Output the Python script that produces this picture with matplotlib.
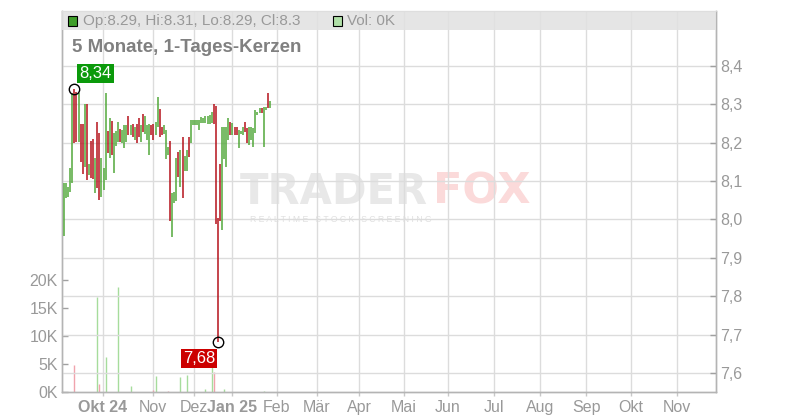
import matplotlib
matplotlib.use("Agg")
import matplotlib.pyplot as plt
from matplotlib.patches import Rectangle

plt.rcParams['font.family'] = ['Liberation Sans', 'DejaVu Sans']

# ---------------- data ----------------
highs = [8.095, 8.095, 8.085, 8.134, 8.330, 8.340, 8.332, 8.330, 8.249, 8.249,
         8.301, 8.301, 8.145, 8.205, 8.210, 8.160, 8.254, 8.225, 8.160, 8.134,
         8.330, 8.231, 8.265, 8.257, 8.225,
         8.231, 8.254, 8.236, 8.233, 8.246, 8.246, 8.270, 8.246, 8.249, 8.241,
         8.249, 8.264, 8.246, 8.275, 8.270, 8.246, 8.249, 8.246, 8.249, 8.254,
         8.319, 8.288, 8.241, 8.246, 8.233, 8.189, 8.205,
         8.069, 8.072, 8.160, 8.176, 8.181, 8.215, 8.165, 8.181, 8.215, 8.259,
         8.259, 8.259, 8.259, 8.259, 8.267, 8.265, 8.270, 8.270, 8.272, 8.280,
         8.301, 8.296, 8.004, 8.145,
         8.241, 8.241, 8.241, 8.264, 8.254, 8.251, 8.241, 8.241, 8.233, 8.231,
         8.241, 8.254, 8.238, 8.241, 8.241, 8.238, 8.285, 8.280, 8.290, 8.290,
         8.293, 8.293, 8.330, 8.310]
lows = [7.957, 8.056, 8.059, 8.072, 8.095, 8.199, 8.202, 8.202, 8.150, 8.119,
        8.137, 8.103, 8.116, 8.108, 8.106, 8.069, 8.082, 8.051, 8.059, 8.077,
        8.103, 8.173, 8.160, 8.168, 8.121,
        8.192, 8.202, 8.202, 8.199, 8.186, 8.202, 8.220, 8.220, 8.215, 8.207,
        8.199, 8.215, 8.202, 8.228, 8.223, 8.207, 8.168, 8.220, 8.207, 8.220,
        8.241, 8.215, 8.220, 8.223, 8.158, 8.168, 7.996,
        7.954, 8.043, 8.048, 8.111, 8.085, 8.056, 8.126, 8.126, 8.163, 8.199,
        8.246, 8.246, 8.246, 8.233, 8.251, 8.251, 8.251, 8.249, 8.249, 8.251,
        8.249, 7.988, 7.680, 7.996,
        7.973, 8.158, 8.137, 8.207, 8.220, 8.220, 8.220, 8.220, 8.186, 8.223,
        8.220, 8.228, 8.199, 8.194, 8.207, 8.189, 8.225, 8.272, 8.278, 8.278,
        8.189, 8.285, 8.290, 8.290]
direction = ("GGGGGRRGRRGRGRRGRRGGGRGRG"
             "GGRGGGRGRGRRGRGGGRRGGRRGGGR"
             "GGGRGRGGRGGGGGGGGGGGRRRR"
             "GGGGRGRRGGGRRGGGGGGRGGRG")

vol_idx = [5, 16, 17, 20, 26, 32, 43, 44, 50, 56, 59, 68, 71, 72, 77, 96]
vol_k = [4.8, 17.0, 1.4, 6.2, 18.8, 1.1, 0.35, 2.9, 0.2, 2.6, 3.0, 0.5, 4.4, 3.5, 0.5, 0.2]
vol_dir = "RGRGGGRGRGGGGRGG"

month_pos = [18.75, 42.8, 62.5, 80.8, 102.4, 121.6, 141.8, 163.5, 184.6,
             206.7, 228.8, 251.0, 272.6, 294.7]
month_labels = ["Okt 24", "Nov", "Dez", "Jan 25", "Feb", "Mär", "Apr", "Mai",
                "Jun", "Jul", "Aug", "Sep", "Okt", "Nov"]
price_ticks = [7.6, 7.7, 7.8, 7.9, 8.0, 8.1, 8.2, 8.3, 8.4]
vol_ticks = [0, 5, 10, 15, 20]

title = "5 Monate, 1-Tages-Kerzen"
legend_ohlc = "Op:8.29, Hi:8.31, Lo:8.29, Cl:8.3"
legend_vol = "Vol: 0K"
hi_idx, hi_val, hi_label = 5, 8.34, "8,34"
lo_idx, lo_val, lo_label = 74, 7.68, "7,68"

# ---------------- style ----------------
W, H = 800, 420
GREEN = '#52a83a'
RED = '#b5121b'
VGREEN = '#a6dc9c'
VRED = '#f0a3ad'
GRID = '#dcdcdc'
TXT = '#999999'
SPINE = '#b4b4b4'

def fx(px):
    return px / W

def fy(py):
    return 1 - py / H

fig = plt.figure(figsize=(W / 100, H / 100), dpi=100)
fig.patch.set_facecolor('white')
axv = fig.add_axes([fx(62), fy(392), 654 / W, 381 / H])
ax = axv.twinx()

# volume axis
vcols = [VGREEN if d == 'G' else VRED for d in vol_dir]
axv.vlines(vol_idx, 0, vol_k, colors=vcols, lw=1.0, zorder=2)
axv.set_ylim(0, 381 / 5.6)
axv.set_xlim(-0.96, 313.46)
axv.set_yticks(vol_ticks)
axv.set_yticklabels([f"{v}K" for v in vol_ticks])
axv.set_xticks(month_pos)
axv.set_xticklabels(month_labels)
for lab in axv.get_xticklabels():
    if any(ch.isdigit() for ch in lab.get_text()):
        lab.set_fontweight('bold')
axv.xaxis.grid(True, color=GRID, lw=1.0)
axv.yaxis.grid(False)
axv.tick_params(axis='y', direction='in', length=4, width=1, color='#a0a0a0',
                labelcolor=TXT, labelsize=11.5, pad=3)
axv.tick_params(axis='x', direction='out', length=3, width=1, color='#c8c8c8',
                labelcolor=TXT, labelsize=11.5, pad=3)

# price axis
n = len(highs)
ccols = [GREEN if d == 'G' else RED for d in direction]
ax.vlines(range(n), lows, highs, colors=ccols, lw=1.1, zorder=3)
ax.set_ylim(7.5505, 8.5433)
ax.set_yticks(price_ticks)
ax.set_yticklabels([f"{v:.1f}".replace('.', ',') for v in price_ticks])
ax.yaxis.grid(True, color=GRID, lw=1.0)
ax.tick_params(axis='y', direction='in', length=4, width=1, color='#a0a0a0',
               labelcolor=TXT, labelsize=11.5, pad=3)

for a in (axv, ax):
    for s in ('left', 'right', 'bottom'):
        a.spines[s].set_color(SPINE)
        a.spines[s].set_linewidth(1.0)
    a.spines['top'].set_color('#d0d0d0')

# extreme markers and labels
ax.plot([hi_idx], [hi_val], 'o', ms=7.5, mfc='none', mec='black', mew=1.0, zorder=6)
ax.plot([lo_idx], [lo_val], 'o', ms=7.5, mfc='none', mec='black', mew=1.0, zorder=6)
ax.annotate(hi_label, (hi_idx, hi_val), xytext=(5, 8), textcoords='offset pixels',
            ha='left', va='bottom', color='white', fontsize=12, zorder=7,
            bbox=dict(boxstyle='square,pad=0.12', fc='#0b9a0b', ec='none'))
ax.annotate(lo_label, (lo_idx, lo_val), xytext=(-3, -9), textcoords='offset pixels',
            ha='right', va='top', color='white', fontsize=12, zorder=7,
            bbox=dict(boxstyle='square,pad=0.12', fc='#cc0000', ec='none'))

# watermark
axv.text(fx(240), fy(192), "TRADER", transform=fig.transFigure, fontsize=30,
         fontweight='bold', family='DejaVu Sans', color='#e8e8e8',
         ha='left', va='center', zorder=0)
axv.text(fx(433), fy(192), "FOX", transform=fig.transFigure, fontsize=31,
         fontweight='bold', family='DejaVu Sans', color='#fbdada',
         ha='left', va='center', zorder=0)
axv.text(fx(250), fy(219), "R E A L T I M E   S T O C K   S C R E E N I N G",
         transform=fig.transFigure, fontsize=6.2, color='#e0e0e0',
         ha='left', va='center', zorder=0)

# header band / legend
fig.add_artist(Rectangle((fx(62), fy(30)), 654 / W, 19 / H, transform=fig.transFigure,
                         fc='#e1e1e1', ec='none', alpha=0.85, zorder=5))
fig.add_artist(Rectangle((fx(68), fy(26)), 9 / W, 10 / H, transform=fig.transFigure,
                         fc='#3f9e2a', ec='black', lw=0.8, zorder=6))
fig.text(fx(83), fy(21), legend_ohlc, fontsize=11, color=TXT, ha='left', va='center', zorder=6)
fig.add_artist(Rectangle((fx(333), fy(26)), 9 / W, 10 / H, transform=fig.transFigure,
                         fc='#b0e0a8', ec='black', lw=0.8, zorder=6))
fig.text(fx(347), fy(21), legend_vol, fontsize=11, color=TXT, ha='left', va='center', zorder=6)

# title
fig.text(fx(72), fy(48), title, fontsize=13.5, fontweight='bold', color='#808080',
         ha='left', va='center', zorder=6)

fig.savefig("out.png", dpi=100)
